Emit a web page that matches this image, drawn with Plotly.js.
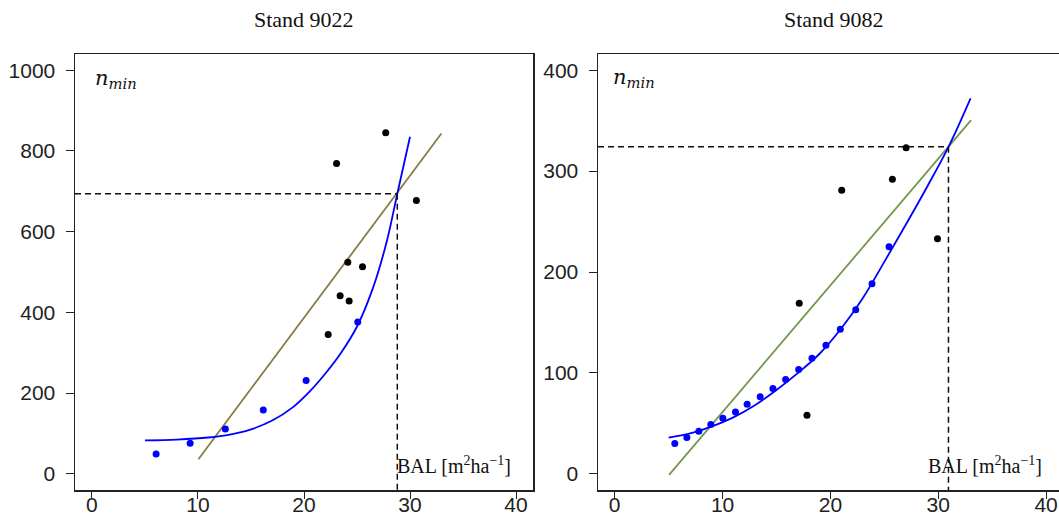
<!DOCTYPE html>
<html>
<head>
<meta charset="utf-8">
<script src="https://cdn.plot.ly/plotly-3.0.1.min.js"></script>
<style>html,body{margin:0;padding:0;background:#fff;}#chart{width:1059px;height:526px;}</style>
</head>
<body>
<div id="chart"></div>
<script>
// ---------- Stand 9022 (left) ----------
const titles = ["Stand 9022", "Stand 9082"];
const left_blue_x = [6.05, 9.26, 12.58, 16.16, 20.2, 25.07];
const left_blue_y = [49, 76, 111, 158, 231, 376];
const left_black_x = [22.28, 23.41, 24.26, 24.13, 25.52, 23.07, 27.71, 30.6];
const left_black_y = [345, 441, 428, 524, 513, 769, 845, 677];
const left_line_x = [10.04, 32.96];
const left_line_y = [36, 843];
const left_curve_x = [5, 8, 11, 13, 15, 17, 19, 20.5, 22, 23.5, 25, 26.5, 27.8, 28.8, 30];
const left_curve_y = [83, 85, 90, 97, 110, 132, 166, 203, 248, 300, 365, 460, 575, 694, 835];
const left_cross = {bal: 28.8, n: 694};

// ---------- Stand 9082 (right) ----------
const right_blue_x = [5.57, 6.69, 7.8, 8.91, 10.03, 11.2, 12.28, 13.49, 14.67, 15.85, 17.06, 18.29, 19.59, 20.92, 22.35, 23.86, 25.44];
const right_blue_y = [30, 35.9, 42.2, 48.8, 55.1, 61.4, 69, 76.5, 84.5, 93.4, 103.3, 114.5, 127.4, 143.2, 162.7, 188.4, 225];
const right_black_x = [17.11, 17.83, 21.05, 25.75, 27.02, 29.93];
const right_black_y = [169, 58, 281, 292, 323, 233];
const right_line_x = [5.04, 33.05];
const right_line_y = [-1, 350.5];
const right_curve_x = [5, 7, 9, 11, 13, 15, 17, 19, 21, 23, 25, 27, 29, 31, 33];
const right_curve_y = [36, 40, 47, 56, 68, 83, 100, 119, 144, 174, 210, 247, 285, 325, 372];
const right_cross = {bal: 30.95, n: 324};

const left_xticks = [0, 10, 20, 30, 40];
const left_yticks = [0, 200, 400, 600, 800, 1000];
const right_xticks = [0, 10, 20, 30, 40];
const right_yticks = [0, 100, 200, 300, 400];

const W = 1059, H = 526;
const px = v => v / W, py = v => 1 - v / H;

const BLUE = '#0000ff', OLIVE = '#877d44', GREEN = '#72994b';

function panel(xa, ya, bx, by, kx, ky, lx, ly, cx, cy, cross, lineColor, xmin, ymin) {
  return [
    {x: lx, y: ly, xaxis: xa, yaxis: ya, mode: 'lines', line: {color: lineColor, width: 1.8}, hoverinfo: 'skip'},
    {x: cx, y: cy, xaxis: xa, yaxis: ya, mode: 'lines', line: {color: BLUE, width: 1.8, shape: 'spline', smoothing: 1}, hoverinfo: 'skip'},
    {x: [xmin, cross.bal], y: [cross.n, cross.n], xaxis: xa, yaxis: ya, mode: 'lines', line: {color: '#111', width: 1.5, dash: '6px,4px'}, hoverinfo: 'skip'},
    {x: [cross.bal, cross.bal], y: [cross.n, ymin], xaxis: xa, yaxis: ya, mode: 'lines', line: {color: '#111', width: 1.5, dash: '6px,4px'}, hoverinfo: 'skip'},
    {x: bx, y: by, xaxis: xa, yaxis: ya, mode: 'markers', marker: {color: BLUE, size: 7}, hoverinfo: 'skip'},
    {x: kx, y: ky, xaxis: xa, yaxis: ya, mode: 'markers', marker: {color: '#000', size: 7}, hoverinfo: 'skip'}
  ];
}

const data = [].concat(
  panel('x', 'y', left_blue_x, left_blue_y, left_black_x, left_black_y, left_line_x, left_line_y, left_curve_x, left_curve_y, left_cross, OLIVE, -1.6, -40),
  panel('x2', 'y2', right_blue_x, right_blue_y, right_black_x, right_black_y, right_line_x, right_line_y, right_curve_x, right_curve_y, right_cross, GREEN, -1.55, -16)
);

const tickfont = {family: 'Liberation Sans, Arial, sans-serif', size: 21, color: '#222'};
const axBase = {showgrid: false, zeroline: false, showline: true, linecolor: '#222', linewidth: 1.5,
  ticks: 'outside', ticklen: 7, tickwidth: 1, tickcolor: '#222', tickfont: tickfont, fixedrange: true, ticklabeloverflow: 'allow'};

const ydom = [py(490), py(54)];
const layout = {
  width: W, height: H, showlegend: false,
  margin: {l: 0, r: 0, t: 0, b: 0},
  paper_bgcolor: '#fff', plot_bgcolor: '#fff',
  xaxis: Object.assign({}, axBase, {domain: [px(75), px(533)], range: [-1.6, 41.6], tickvals: left_xticks, anchor: 'y', mirror: true, ticklabelstandoff: -12}),
  yaxis: Object.assign({}, axBase, {domain: ydom, range: [-40, 1040], tickvals: left_yticks, anchor: 'x', mirror: true, ticklen: 8, ticklabelstandoff: 6}),
  xaxis2: Object.assign({}, axBase, {domain: [px(598), 1], range: [-1.55, 41.2], tickvals: right_xticks, anchor: 'y2', mirror: true, ticklabelstandoff: -12}),
  yaxis2: Object.assign({}, axBase, {domain: ydom, range: [-16, 416], tickvals: right_yticks, anchor: 'x2', ticklen: 8, ticklabelstandoff: 6}),
  annotations: [
    {text: titles[0], xref: 'paper', yref: 'paper', x: px(304), y: py(19), xanchor: 'center', yanchor: 'middle', showarrow: false,
      font: {family: 'Liberation Serif, Times New Roman, serif', size: 22, color: '#111'}},
    {text: titles[1], xref: 'paper', yref: 'paper', x: px(834), y: py(19), xanchor: 'center', yanchor: 'middle', showarrow: false,
      font: {family: 'Liberation Serif, Times New Roman, serif', size: 22, color: '#111'}},
    {text: '<i>n</i><sub><i>min</i></sub>', xref: 'paper', yref: 'paper', x: px(93), y: py(79), xanchor: 'left', yanchor: 'middle', showarrow: false,
      font: {family: 'DejaVu Serif, serif', size: 21, color: '#111'}},
    {text: '<i>n</i><sub><i>min</i></sub>', xref: 'paper', yref: 'paper', x: px(611), y: py(78), xanchor: 'left', yanchor: 'middle', showarrow: false,
      font: {family: 'DejaVu Serif, serif', size: 21, color: '#111'}},
    {text: 'BAL [m<sup>2</sup>ha<sup>−1</sup>]', xref: 'paper', yref: 'paper', x: px(395), y: py(465), xanchor: 'left', yanchor: 'middle', showarrow: false,
      font: {family: 'Liberation Serif, Times New Roman, serif', size: 20, color: '#111'}},
    {text: 'BAL [m<sup>2</sup>ha<sup>−1</sup>]', xref: 'paper', yref: 'paper', x: px(926), y: py(465), xanchor: 'left', yanchor: 'middle', showarrow: false,
      font: {family: 'Liberation Serif, Times New Roman, serif', size: 20, color: '#111'}}
  ]
};

Plotly.newPlot('chart', data, layout, {staticPlot: true, displayModeBar: false});
</script>
</body>
</html>
